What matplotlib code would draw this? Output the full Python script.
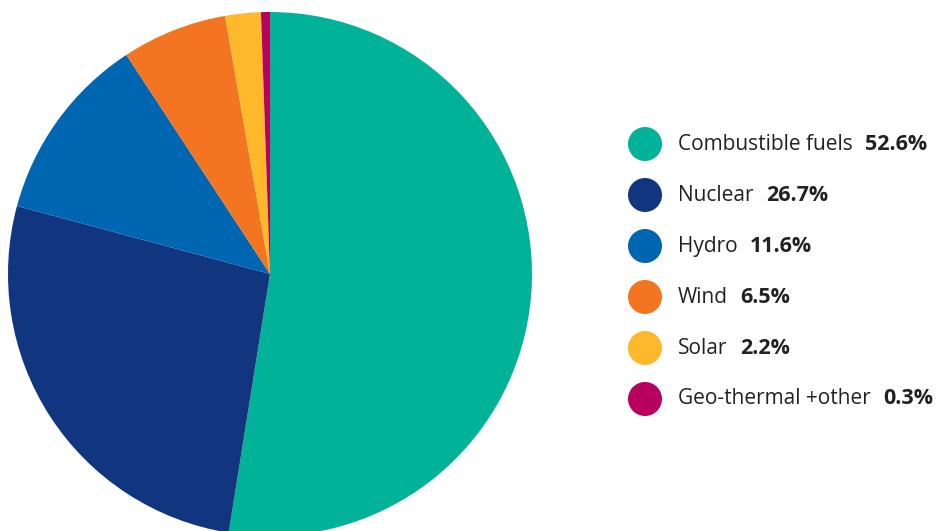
import matplotlib.pyplot as plt
from matplotlib.patches import Circle

labels = ['Combustible fuels', 'Nuclear', 'Hydro', 'Wind', 'Solar', 'Geo-thermal +other']
pct_labels = ['52.6%', '26.7%', '11.6%', '6.5%', '2.2%', '0.3%']
# slice sizes as drawn (the geo-thermal sliver is drawn a bit wider than 0.3%)
slices = [52.6, 26.7, 11.6, 6.5, 2.2, 0.55]
colors = ['#00b398', '#12357f', '#0066b2', '#f47521', '#fdb92b', '#b8005e']

W, H = 945, 531
fig = plt.figure(figsize=(W / 100, H / 100), dpi=100)
ax = fig.add_axes([0, 0, 1, 1])

# pie, centre/radius in pixels (y up)
ax.pie(slices, colors=colors, startangle=90, counterclock=False,
       center=(270, H - 274), radius=262, frame=True,
       wedgeprops=dict(linewidth=0))
ax.set_xlim(0, W)
ax.set_ylim(0, H)
ax.axis('off')

# legend
y0, step = 144, 51
for i, (lab, pct, col) in enumerate(zip(labels, pct_labels, colors)):
    y = H - (y0 + i * step)
    ax.add_patch(Circle((645, y), 17, color=col, lw=0))
    t = ax.text(678, y, lab, fontsize=15, family='Open Sans', color='#222222',
                va='center', ha='left')
    ax.annotate(pct, xy=(1, 0.5), xycoords=t, xytext=(9, 0),
                textcoords='offset points', fontsize=15.5, family='Open Sans',
                fontweight='bold', color='#222222', va='center', ha='left')

fig.savefig('out.png', dpi=100)
